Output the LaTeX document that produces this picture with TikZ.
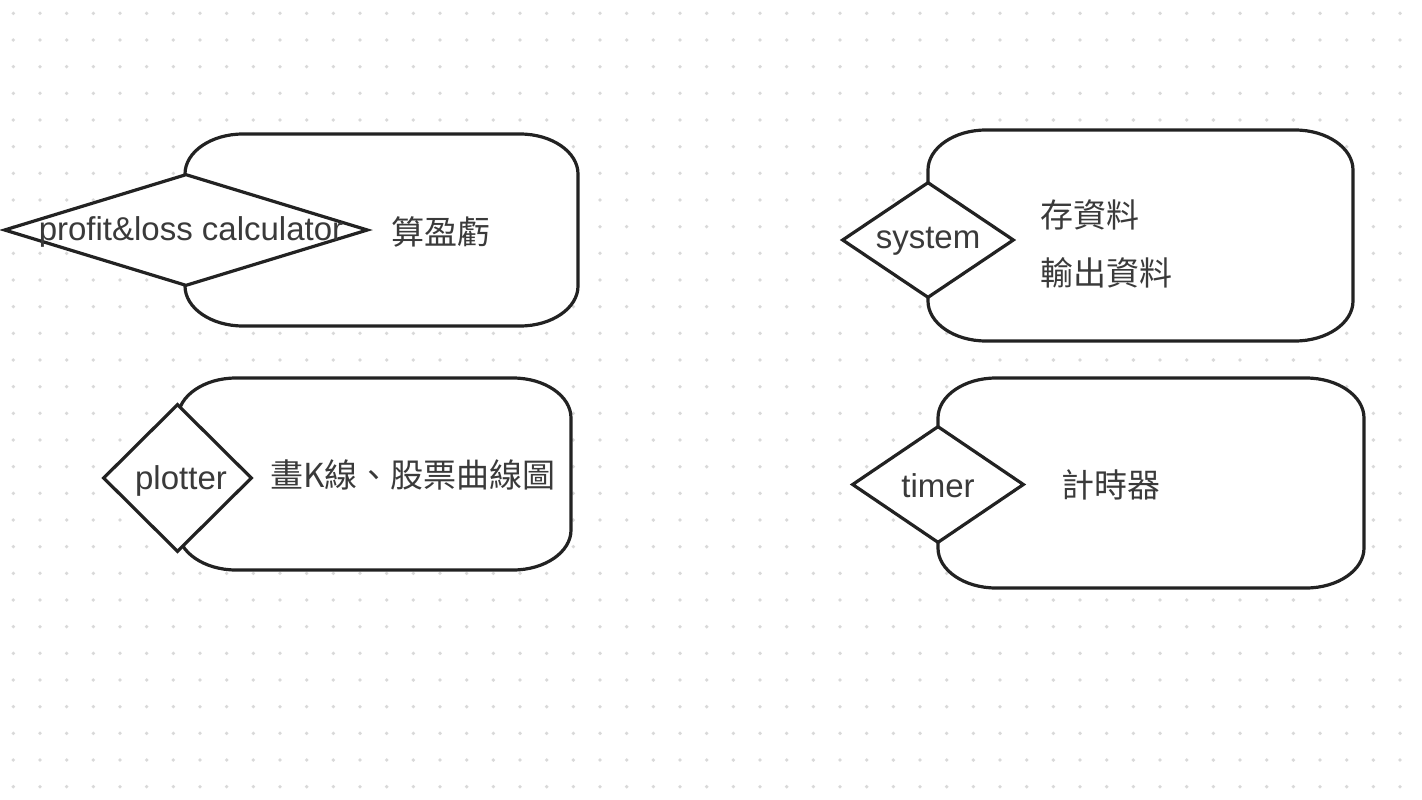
\documentclass[tikz,border=0pt]{standalone}
\usepackage{fontspec}
\setmainfont{Liberation Sans}
\newfontfamily\cjk{Noto Sans CJK TC}
\usetikzlibrary{shapes.geometric}
\definecolor{linec}{HTML}{222222}
\definecolor{textc}{HTML}{3A3A3A}
\definecolor{dotc}{HTML}{D9D9D9}
\tikzset{
 boxanchor/.style={draw=none, inner sep=0pt, outer sep=0pt},
 boxline/.style={draw=linec, line width=3.2pt, fill=white, line join=round},
 dia/.style={diamond, draw=linec, line width=3.2pt, fill=white, inner sep=0pt, line join=miter},
 lbl/.style={text=textc, font=\fontsize{33}{40}\selectfont, inner sep=0pt},
 cjklbl/.style={text=textc, font=\fontsize{33}{40}\selectfont\cjk, inner sep=0pt, anchor=west},
}
\newcommand\ebox[5]{%
 \node[boxanchor, minimum width={(#4-#2)*1pt}, minimum height={(#5-#3)*1pt}] (#1) at ({(#2+#4)/2},{(#3+#5)/2}) {};
 \path[boxline] ({#2+58},#3) -- ({#4-58},#3) .. controls ({#4-26},#3) and (#4,{#3+18}) .. (#4,{#3+40})
   -- (#4,{#5-40}) .. controls (#4,{#5-18}) and ({#4-26},#5) .. ({#4-58},#5)
   -- ({#2+58},#5) .. controls ({#2+26},#5) and (#2,{#5-18}) .. (#2,{#5-40})
   -- (#2,{#3+40}) .. controls (#2,{#3+18}) and ({#2+26},#3) .. ({#2+58},#3) -- cycle;
}
\begin{document}
\begin{tikzpicture}[x=1pt,y=-1pt]
\useasboundingbox (0,0) rectangle (1422,800);
\fill[white] (0,0) rectangle (1422,800);
\foreach \i in {0,...,52} {
  \foreach \j in {0,...,29} {
    \fill[dotc] ({13.33+26.667*\i},{13.33+26.667*\j}) circle (1.9pt);
  }
}
% box 1
\ebox{b1}{185}{134}{578}{326}
\node[dia, minimum width=364pt, minimum height=112pt] (d1) at (186,230) {};
\node[lbl] (t1) at (191,232) {profit\&loss calculator};
\node[cjklbl] (c1) at (391,232) {算盈虧};
% box 2
\ebox{b2}{178}{378}{571}{570}
\node[dia, minimum width=149pt, minimum height=148pt] (d2) at (177.5,478) {};
\node[lbl] (t2) at (181,481) {plotter};
\node[cjklbl] (c2) at (270,475) {畫K線、股票曲線圖};
% box 3
\ebox{b3}{928}{130}{1353}{341}
\node[dia, minimum width=172pt, minimum height=116pt] (d3) at (928,240) {};
\node[lbl] (t3) at (928,241) {system};
\node[cjklbl] (c3a) at (1040,215) {存資料};
\node[cjklbl] (c3b) at (1040,273) {輸出資料};
% box 4
\ebox{b4}{938}{378}{1364}{588}
\node[dia, minimum width=172pt, minimum height=117pt] (d4) at (938,484.5) {};
\node[lbl] (t4) at (938,486) {timer};
\node[cjklbl] (c4) at (1061,485) {計時器};
\end{tikzpicture}
\end{document}
